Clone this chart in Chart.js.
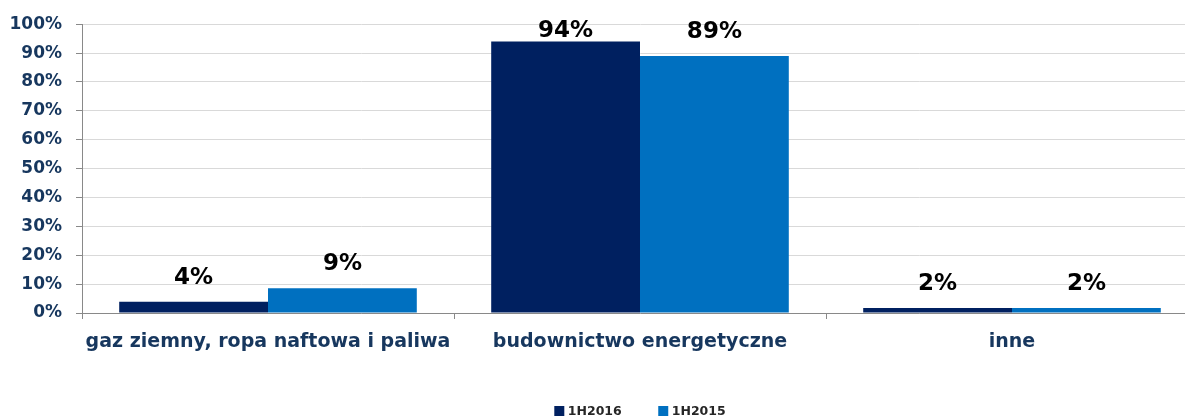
<!DOCTYPE html>
<html>
<head>
<meta charset="utf-8">
<script src="https://cdn.jsdelivr.net/npm/chart.js@4"></script>
<style>
  html, body { margin: 0; padding: 0; background: #fff; overflow: hidden; }
  #wrap { width: 1280px; height: 417px; }
</style>
</head>
<body>
<div id="wrap"><canvas id="chart" width="1280" height="417"></canvas></div>
<script>
const categories = ['gaz ziemny, ropa naftowa i paliwa', 'budownictwo energetyczne', 'inne'];
const seriesNames = ['1H2016', '1H2015'];
const values2016 = [3.9, 94.0, 1.7];
const values2015 = [8.6, 89.0, 1.7];
const seriesColors = ['#002060', '#0070C0'];

const FONT = "'DejaVu Sans', sans-serif";
const AXIS_COLOR = '#898989';
const LABEL_COLOR = '#17375E';

// value labels above bars, pushed down when they would leave the plot area
const barLabels = {
  id: 'barLabels',
  afterDatasetsDraw(chart) {
    const ctx = chart.ctx;
    ctx.save();
    ctx.font = '700 23px ' + FONT;
    ctx.fillStyle = '#000';
    ctx.textAlign = 'center';
    ctx.textBaseline = 'alphabetic';
    chart.data.datasets.forEach((ds, i) => {
      chart.getDatasetMeta(i).data.forEach((bar, j) => {
        const y = Math.max(bar.y - 18, chart.chartArea.top + 13);
        ctx.fillText(Math.round(ds.data[j]) + '%', bar.x, y);
      });
    });
    ctx.restore();
  }
};

// small square legend centred under the plot
const bottomLegend = {
  id: 'bottomLegend',
  afterDraw(chart) {
    const ctx = chart.ctx;
    const box = 10, gap = 3.5, spacing = 36.5, cy = 411;
    ctx.save();
    ctx.font = '700 12.5px ' + FONT;
    ctx.textBaseline = 'middle';
    const items = chart.data.datasets.map(ds => ({
      text: ds.label, color: ds.backgroundColor, w: ctx.measureText(ds.label).width
    }));
    const total = items.reduce((s, it) => s + box + gap + it.w, 0) + spacing * (items.length - 1);
    let x = chart.width / 2 - total / 2;
    items.forEach(it => {
      ctx.fillStyle = it.color;
      ctx.fillRect(x, cy - box / 2, box, box);
      x += box + gap;
      ctx.fillStyle = '#262626';
      ctx.fillText(it.text, x, cy + 0.5);
      x += it.w + spacing;
    });
    ctx.restore();
  }
};

new Chart(document.getElementById('chart'), {
  type: 'bar',
  data: {
    labels: categories,
    datasets: [
      { label: seriesNames[0], data: values2016, backgroundColor: seriesColors[0] },
      { label: seriesNames[1], data: values2015, backgroundColor: seriesColors[1] }
    ]
  },
  options: {
    responsive: false,
    animation: false,
    devicePixelRatio: 1,
    layout: { padding: { top: 22, right: 82, left: 0, bottom: 0 } },
    datasets: { bar: { categoryPercentage: 0.8, barPercentage: 1.0 } },
    plugins: {
      legend: { display: false },
      tooltip: { enabled: false }
    },
    scales: {
      x: {
        offset: true,
        grid: { display: true, drawOnChartArea: false, drawTicks: true, tickLength: 6, color: AXIS_COLOR },
        border: { color: AXIS_COLOR },
        ticks: { font: { family: FONT, size: 19, weight: 'bold' }, color: LABEL_COLOR, padding: 12, maxRotation: 0 },
        afterFit(s) { s.height = 104; }
      },
      y: {
        min: 0,
        max: 100,
        ticks: {
          stepSize: 10,
          callback: v => v + '%',
          font: { family: FONT, size: 17, weight: 'bold' },
          color: LABEL_COLOR,
          padding: 14
        },
        grid: { color: '#D9D9D9', tickColor: AXIS_COLOR, tickLength: 6 },
        border: { color: AXIS_COLOR },
        afterFit(s) { s.width = 82; }
      }
    }
  },
  plugins: [barLabels, bottomLegend]
});
</script>
</body>
</html>
